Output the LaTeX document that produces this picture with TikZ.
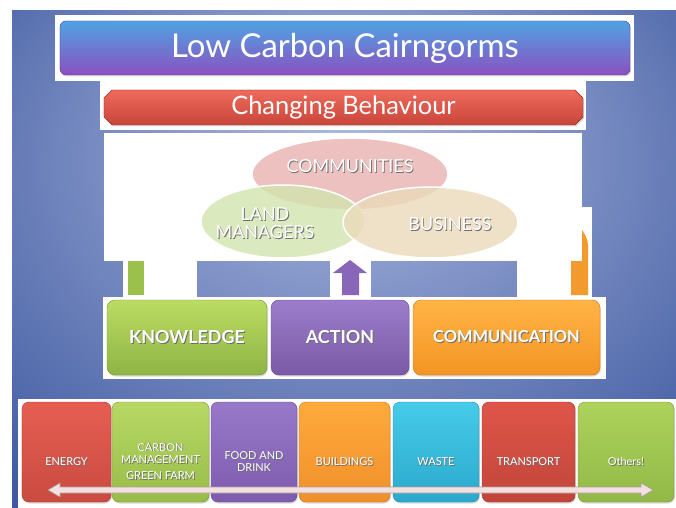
\documentclass[tikz,border=0pt]{standalone}
\usepackage{fontspec}
\setmainfont{Lato}
\usetikzlibrary{shapes.geometric,shapes.misc,shadows,calc}

% palette
\definecolor{bglight}{HTML}{AEBBDE}
\definecolor{bgmid}{HTML}{8092C6}
\definecolor{bgdark}{HTML}{3A569E}
\definecolor{bgdeep}{HTML}{17317A}
\definecolor{titletop}{HTML}{4FA3E3}
\definecolor{titlebottom}{HTML}{8B50C0}
\definecolor{bartop}{HTML}{EE6A5C}
\definecolor{barbottom}{HTML}{C9453A}
\definecolor{commfill}{HTML}{E8B2B0}
\definecolor{landfill}{HTML}{D3E4AE}
\definecolor{bizfill}{HTML}{EBDAB9}
\definecolor{knowtop}{HTML}{BCDC62}
\definecolor{knowbottom}{HTML}{8EB445}
\definecolor{actiontop}{HTML}{9C7DCB}
\definecolor{actionbottom}{HTML}{7A5AA6}
\definecolor{commtop}{HTML}{FFB445}
\definecolor{commbottom}{HTML}{F39524}
\definecolor{redtop}{HTML}{E65E52}
\definecolor{redbottom}{HTML}{C94B40}
\definecolor{greentop}{HTML}{B8D865}
\definecolor{greenbottom}{HTML}{98BC48}
\definecolor{purpletop}{HTML}{9878C8}
\definecolor{purplebottom}{HTML}{7D5CAE}
\definecolor{orangetop}{HTML}{FFAA3C}
\definecolor{orangebottom}{HTML}{F0902A}
\definecolor{cyantop}{HTML}{46CBEA}
\definecolor{cyanbottom}{HTML}{2BA9CC}
\definecolor{transtop}{HTML}{DF5649}
\definecolor{transbottom}{HTML}{C2453A}
\definecolor{otherstop}{HTML}{ADD35C}
\definecolor{othersbottom}{HTML}{92B847}
\definecolor{spanpink}{HTML}{F3E0E0}
\definecolor{spanedge}{HTML}{B09C9C}
\definecolor{uparrowgreen}{HTML}{9CC04C}
\definecolor{uparrowpurple}{HTML}{8A66B8}
\definecolor{uparroworange}{HTML}{F29A2E}
\definecolor{textshade}{HTML}{6E6E6E}

\pgfdeclareradialshading{bgglow}{\pgfpoint{0bp}{15bp}}{%
  color(0bp)=(bglight); color(16bp)=(bgmid); color(40bp)=(bgdark); color(62bp)=(bgdeep)}

\newcommand\shadowed[1]{\makebox[0pt][l]{\kern0.9bp\raisebox{-0.9bp}{\textcolor{textshade}{#1}}}#1}

\tikzset{
  softshadow/.style={drop shadow={opacity=0.3,shadow xshift=1bp,shadow yshift=-1.5bp}},
  titlebar/.style={rectangle, rounded corners=6bp, minimum width=570bp, minimum height=54bp,
    inner sep=0pt, top color=titletop, bottom color=titlebottom, draw=titlebottom!70!black,
    line width=0.4bp, text=white, font=\fontsize{33}{36}\selectfont, softshadow},
  behaviourbar/.style={chamfered rectangle, chamfered rectangle xsep=4bp, chamfered rectangle ysep=4bp,
    minimum width=479bp, minimum height=35bp, inner sep=0pt, top color=bartop, bottom color=barbottom,
    draw=barbottom!70!black, line width=0.4bp, text=white, font=\fontsize{25.5}{27}\selectfont, softshadow},
  venn/.style={ellipse, draw=white, line width=1.5bp, fill opacity=0.8, inner sep=0pt},
  venntext/.style={text=white, font=\fontsize{18}{18}\selectfont, align=center},
  button/.style 2 args={rectangle, rounded corners=8bp, minimum height=75bp, inner sep=0pt,
    top color=#1, bottom color=#2, draw=#2!80!black, line width=0.4bp, text=white,
    font=\fontsize{18}{20}\selectfont\bfseries, softshadow},
  tile/.style 2 args={rectangle, rounded corners=7bp, minimum height=100bp, inner sep=0pt,
    top color=#1, bottom color=#2, draw=#2!80!black, line width=0.4bp, softshadow},
  tiletext/.style={text=white, font=\fontsize{11}{12.5}\selectfont, align=center},
  spanarrow/.style={fill=spanpink, draw=spanedge, line width=0.6bp, line join=miter}
}

\begin{document}
\begin{tikzpicture}[x=1bp,y=-1bp]
\useasboundingbox (0,0) rectangle (676,508);
\fill[white] (0,0) rectangle (676,508);
\shade[shading=bgglow] (12,11) rectangle (676,508);

% white panels behind the slide objects
\fill[white] (55,15) rectangle (634,81);
\fill[white] (100,81) rectangle (586,130);
\fill[white] (104,133) rectangle (582,261);
\fill[white] (517,207) rectangle (592,297);
\fill[white] (123,261) rectangle (197,298);
\fill[white] (330,261) rectangle (371,298);
\fill[white] (103,297) rectangle (606,379);
\fill[white] (18,399) rectangle (676,508);

% up arrows (visible parts)
\fill[uparrowgreen] (128,261) rectangle (144,295);
\fill[uparrowpurple] (350,260) -- (367,273) -- (359,273) -- (359,295) -- (342,295) -- (342,273) -- (333,273) -- cycle;
\fill[uparroworange] (571,295) -- (588,295) -- (588,245) .. controls (587,238) .. (582,230) -- (582,261) -- (571,261) -- cycle;

% headings
\node[titlebar] (title) at (345,48) {Low Carbon Cairngorms};
\node[behaviourbar] (behaviour) at (343.5,107.5) {Changing Behaviour};

% venn
\node[venn, fill=commfill, minimum width=196bp, minimum height=72bp] (communities) at (350,174) {};
\node[venn, fill=landfill, minimum width=164bp, minimum height=73bp] (landmgr) at (283,221.5) {};
\node[venn, fill=bizfill, minimum width=175bp, minimum height=71bp] (business) at (430.5,222.5) {};
\node[venntext] (communities-text) at (350,167) {\shadowed{COMMUNITIES}};
\node[venntext] (landmgr-text) at (265,224) {\shadowed{LAND}\\\shadowed{MANAGERS}};
\node[venntext] (business-text) at (450,225) {\shadowed{BUSINESS}};

% buttons
\node[button={knowtop}{knowbottom}, minimum width=160bp] (knowledge) at (187,337.5) {\shadowed{KNOWLEDGE}};
\node[button={actiontop}{actionbottom}, minimum width=138bp] (action) at (340,337.5) {\shadowed{ACTION}};
\node[button={commtop}{commbottom}, minimum width=187bp, font=\fontsize{16.5}{20}\selectfont\bfseries] (communication) at (506.5,337.5) {\shadowed{COMMUNICATION}};

% sector tiles
\node[tile={redtop}{redbottom}, minimum width=89bp] (energy) at (66.5,452) {};
\node[tile={greentop}{greenbottom}, minimum width=97bp] (carbon) at (160.5,452) {};
\node[tile={purpletop}{purplebottom}, minimum width=86bp] (food) at (254,452) {};
\node[tile={orangetop}{orangebottom}, minimum width=91bp] (buildings) at (344.5,452) {};
\node[tile={cyantop}{cyanbottom}, minimum width=86bp] (waste) at (436,452) {};
\node[tile={transtop}{transbottom}, minimum width=93bp] (transport) at (528.5,452) {};
\node[tile={otherstop}{othersbottom}, minimum width=96bp] (others) at (626,452) {};

\node[tiletext] (energy-text) at ([yshift=-10bp]energy.center) {\shadowed{ENERGY}};
\node[tiletext] (carbon-text) at ([yshift=-10bp]carbon.center) {\shadowed{CARBON}\\\shadowed{MANAGEMENT}\\[4bp]\shadowed{GREEN FARM}};
\node[tiletext] (food-text) at ([yshift=-10bp]food.center) {\shadowed{FOOD AND}\\\shadowed{DRINK}};
\node[tiletext] (buildings-text) at ([yshift=-10bp]buildings.center) {\shadowed{BUILDINGS}};
\node[tiletext] (waste-text) at ([yshift=-10bp]waste.center) {\shadowed{WASTE}};
\node[tiletext] (transport-text) at ([yshift=-10bp]transport.center) {\shadowed{TRANSPORT}};
\node[tiletext] (others-text) at ([yshift=-10bp]others.center) {\shadowed{Others!}};

% span arrow across the tiles
\coordinate (spanL) at (48,490);
\coordinate (spanR) at (653,490);
\draw[spanarrow] (spanL) -- ($(spanL)+(12,-7)$) -- ($(spanL)+(12,-3)$) -- ($(spanR)+(-12,-3)$)
  -- ($(spanR)+(-12,-7)$) -- (spanR) -- ($(spanR)+(-12,7)$) -- ($(spanR)+(-12,3)$)
  -- ($(spanL)+(12,3)$) -- ($(spanL)+(12,7)$) -- cycle;
\end{tikzpicture}
\end{document}
